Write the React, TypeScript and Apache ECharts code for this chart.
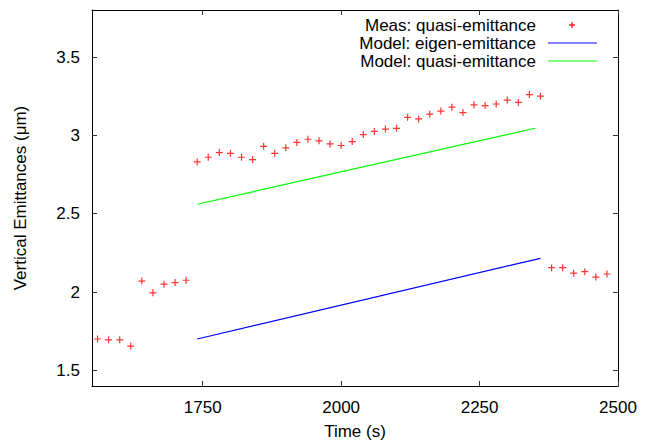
import React, { useEffect, useRef } from "react";
import * as echarts from "echarts";

const measTime = [
  1560, 1580, 1600, 1620,
  1640, 1660, 1680, 1700, 1720,
  1740, 1760, 1780, 1800, 1820, 1840, 1860, 1880, 1900, 1920, 1940, 1960, 1980, 2000, 2020, 2040,
  2060, 2080, 2100, 2120, 2140, 2160, 2180, 2200, 2220, 2240, 2260, 2280, 2300, 2320, 2340, 2360,
  2380, 2400, 2420, 2440, 2460, 2480,
];
const measValue = [
  1.70, 1.695, 1.695, 1.655,
  2.07, 1.995, 2.05, 2.06, 2.075,
  2.83, 2.86, 2.89, 2.885, 2.86, 2.845, 2.93, 2.885, 2.92, 2.955, 2.975, 2.965, 2.945, 2.935, 2.96, 3.005,
  3.025, 3.04, 3.045, 3.115, 3.105, 3.135, 3.155, 3.18, 3.145, 3.195, 3.19, 3.2, 3.225, 3.21, 3.26, 3.25,
  2.155, 2.155, 2.12, 2.13, 2.095, 2.115,
];
const eigenTime = [1740, 2360];
const eigenValue = [1.70, 2.215];
const quasiTime = [1740, 2350];
const quasiValue = [2.56, 3.045];

const xTicks = [1750, 2000, 2250, 2500];
const yTicks = [1.5, 2, 2.5, 3, 3.5];
const legendLabels = ["Meas: quasi-emittance", "Model: eigen-emittance", "Model: quasi-emittance"];

const FONT = '"Liberation Sans", Arial, sans-serif';
const PLUS = "path://M-0.6,-3.5H0.6V-0.6H3.5V0.6H0.6V3.5H-0.6V0.6H-3.5V-0.6H-0.6Z";

export default function App() {
  const ref = useRef<HTMLDivElement>(null);
  useEffect(() => {
    if (!ref.current) return;
    const chart = echarts.init(ref.current, null, { renderer: "svg" });
    const axisLine = { show: true, lineStyle: { color: "#000", width: 1 } };
    const tickStyle = { color: "#333", width: 1 };
    const fmt = (v: number) => String(v);
    const xBase = {
      type: "value" as const,
      min: 1550,
      max: 2500,
      splitLine: { show: false },
      axisLine,
    };
    const yBase = {
      type: "value" as const,
      min: 1.4,
      max: 3.8,
      splitLine: { show: false },
      axisLine,
    };
    chart.setOption({
      animation: false,
      backgroundColor: "#fff",
      textStyle: { fontFamily: FONT },
      grid: { left: 92, right: 35, top: 10, bottom: 57 },
      xAxis: [
        {
          ...xBase,
          position: "bottom",
          name: "Time (s)",
          nameLocation: "middle",
          nameGap: 37,
          nameTextStyle: { fontSize: 17, color: "#000", fontFamily: FONT },
          axisTick: { show: true, inside: true, length: 5, customValues: xTicks, lineStyle: tickStyle },
          axisLabel: { show: true, margin: 13, customValues: xTicks, formatter: fmt, fontSize: 17, color: "#000", fontFamily: FONT },
        },
        {
          ...xBase,
          position: "top",
          axisTick: { show: true, inside: true, length: 5, customValues: xTicks, lineStyle: tickStyle },
          axisLabel: { show: false },
        },
      ],
      yAxis: [
        {
          ...yBase,
          position: "left",
          name: "Vertical Emittances (\u03bcm)",
          nameLocation: "middle",
          nameGap: 63,
          nameTextStyle: { fontSize: 17, color: "#000", fontFamily: FONT },
          axisTick: { show: true, inside: true, length: 5, customValues: yTicks, lineStyle: tickStyle },
          axisLabel: { show: true, margin: 12, customValues: yTicks, formatter: fmt, fontSize: 17, color: "#000", fontFamily: FONT },
        },
        {
          ...yBase,
          position: "right",
          axisTick: { show: true, inside: true, length: 5, customValues: yTicks, lineStyle: tickStyle },
          axisLabel: { show: false },
        },
      ],
      series: [
        {
          name: legendLabels[0],
          type: "scatter",
          data: measTime.map((t, i) => [t, measValue[i]]),
          symbol: PLUS,
          symbolSize: 7,
          itemStyle: { color: "#ff0000" },
        },
        {
          name: legendLabels[1],
          type: "line",
          data: eigenTime.map((t, i) => [t, eigenValue[i]]),
          showSymbol: false,
          lineStyle: { color: "#0000ff", width: 1.2 },
        },
        {
          name: legendLabels[2],
          type: "line",
          data: quasiTime.map((t, i) => [t, quasiValue[i]]),
          showSymbol: false,
          lineStyle: { color: "#00ff00", width: 1.2 },
        },
      ],
      graphic: [
        ...legendLabels.map((label, i) => ({
          type: "text",
          x: 536,
          y: 25 + i * 18,
          style: {
            text: label,
            fill: "#000",
            font: `17px ${FONT}`,
            align: "right",
            verticalAlign: "middle",
          },
        })),
        { type: "line", shape: { x1: 569, y1: 25, x2: 575, y2: 25 }, style: { stroke: "#ff0000", lineWidth: 1.2 } },
        { type: "line", shape: { x1: 572, y1: 22, x2: 572, y2: 28 }, style: { stroke: "#ff0000", lineWidth: 1.2 } },
        { type: "line", shape: { x1: 548, y1: 43, x2: 597, y2: 43 }, style: { stroke: "#0000ff", lineWidth: 1.2 } },
        { type: "line", shape: { x1: 548, y1: 61, x2: 597, y2: 61 }, style: { stroke: "#00ff00", lineWidth: 1.2 } },
      ],
    });
    return () => chart.dispose();
  }, []);
  return (
    <div
      ref={ref}
      style={{ position: "fixed", left: 0, top: 0, width: 653, height: 445, background: "#fff" }}
    />
  );
}
